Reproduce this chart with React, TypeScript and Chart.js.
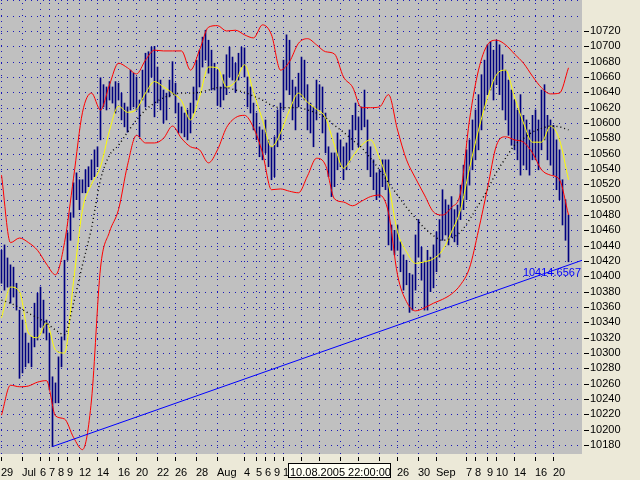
import React, { useEffect, useRef } from "react";
import { Chart, registerables } from "chart.js";

Chart.register(...registerables);

// ---- data (H4 bars, index = bar number) ----
const barHigh = [
  10434, 10441, 10424, 10415, 10412, 10391, 10356, 10343, 10326, 10313,
  10321, 10365, 10378, 10386, 10369, 10343, 10326, 10269, 10261, 10295,
  10321, 10421, 10457, 10483, 10522, 10535, 10526, 10526, 10539, 10543,
  10552, 10565, 10569, 10659, 10650, 10647, 10654, 10647, 10654, 10652,
  10639, 10626, 10621, 10669, 10665, 10660, 10630, 10669, 10691, 10693,
  10699, 10700, 10673, 10656, 10643, 10639, 10656, 10680, 10652, 10626,
  10621, 10613, 10617, 10626, 10647, 10682, 10695, 10712, 10721, 10708,
  10695, 10678, 10669, 10647, 10663, 10689, 10699, 10686, 10678, 10691,
  10699, 10698, 10660, 10647, 10626, 10613, 10595, 10591, 10604, 10578,
  10569, 10582, 10617, 10626, 10682, 10715, 10708, 10656, 10647, 10665,
  10686, 10682, 10650, 10626, 10621, 10656, 10650, 10647, 10613, 10569,
  10561, 10561, 10587, 10578, 10569, 10574, 10591, 10610, 10626, 10608,
  10621, 10643, 10604, 10569, 10552, 10535, 10539, 10552, 10552, 10552,
  10467, 10460, 10467, 10445, 10428, 10421, 10404, 10402, 10454, 10474,
  10438, 10419, 10434, 10425, 10441, 10458, 10474, 10513, 10500, 10493,
  10504, 10487, 10493, 10519, 10545, 10565, 10578, 10604, 10617, 10637,
  10663, 10682, 10702, 10706, 10695, 10708, 10702, 10689, 10669, 10656,
  10643, 10630, 10617, 10637, 10610, 10604, 10591, 10610, 10617, 10604,
  10643, 10650, 10610, 10604, 10597, 10578, 10565, 10526, 10500, 10480,
];
const barLow = [
  10391, 10382, 10386, 10365, 10373, 10356, 10267, 10274, 10282, 10287,
  10282, 10308, 10317, 10334, 10326, 10317, 10252, 10178, 10235, 10235,
  10282, 10317, 10421, 10447, 10477, 10500, 10487, 10509, 10509, 10517,
  10526, 10530, 10543, 10578, 10621, 10617, 10630, 10626, 10613, 10630,
  10604, 10595, 10588, 10617, 10621, 10617, 10582, 10630, 10621, 10640,
  10660, 10608, 10626, 10617, 10600, 10604, 10634, 10639, 10613, 10587,
  10587, 10582, 10578, 10587, 10613, 10630, 10647, 10673, 10682, 10665,
  10643, 10643, 10623, 10621, 10630, 10637, 10660, 10656, 10640, 10656,
  10673, 10660, 10621, 10613, 10591, 10578, 10556, 10552, 10561, 10543,
  10526, 10530, 10569, 10578, 10617, 10643, 10637, 10604, 10591, 10621,
  10634, 10630, 10591, 10587, 10569, 10604, 10617, 10587, 10561, 10530,
  10504, 10517, 10539, 10543, 10526, 10539, 10549, 10565, 10591, 10569,
  10591, 10595, 10539, 10530, 10513, 10500, 10503, 10517, 10513, 10441,
  10434, 10428, 10434, 10406, 10382, 10389, 10353, 10356, 10382, 10425,
  10395, 10356, 10356, 10380, 10385, 10406, 10425, 10447, 10454, 10441,
  10451, 10445, 10441, 10474, 10487, 10500, 10519, 10539, 10552, 10565,
  10591, 10617, 10637, 10643, 10630, 10650, 10637, 10617, 10604, 10584,
  10571, 10565, 10552, 10532, 10545, 10539, 10532, 10552, 10552, 10539,
  10565, 10578, 10552, 10545, 10532, 10513, 10500, 10467, 10447, 10419,
];

// indicator samples (every 3rd bar)
const lineBars = [
  0, 3, 6, 9, 12, 15, 18, 21, 24, 27, 30, 33, 36, 39, 42, 45, 48, 51, 54, 57,
  60, 63, 66, 69, 72, 75, 78, 81, 84, 87, 90, 93, 96, 99, 102, 105, 108, 111,
  114, 117, 120, 123, 126, 129, 132, 135, 138, 141, 144, 147, 150, 153, 156,
  159, 162, 165, 168, 171, 174, 177, 180, 183, 186, 189,
];
const upperBand = [
  10532, 10444, 10450, 10444, 10434, 10416, 10402, 10444, 10528, 10614,
  10639, 10617, 10650, 10678, 10672, 10664, 10682, 10695, 10694, 10694,
  10694, 10669, 10695, 10725, 10727, 10720, 10721, 10715, 10711, 10728,
  10715, 10669, 10680, 10704, 10710, 10702, 10693, 10690, 10660, 10647,
  10620, 10620, 10621, 10637, 10591, 10552, 10528, 10506, 10484, 10480,
  10490, 10509, 10604, 10669, 10702, 10708, 10702, 10690, 10678, 10661,
  10646, 10638, 10639, 10672,
];
const lowerBand = [
  10219, 10258, 10256, 10257, 10262, 10264, 10218, 10214, 10190, 10174,
  10239, 10411, 10458, 10487, 10545, 10584, 10574, 10574, 10580, 10596,
  10580, 10569, 10565, 10548, 10565, 10594, 10607, 10610, 10594, 10561,
  10513, 10514, 10511, 10509, 10531, 10554, 10545, 10501, 10497, 10492,
  10498, 10504, 10506, 10483, 10402, 10367, 10355, 10359, 10365, 10370,
  10377, 10389, 10411, 10460, 10515, 10571, 10582, 10578, 10575, 10561,
  10539, 10532, 10526, 10480,
];
const middleLine = [
  10346, 10386, 10380, 10326, 10320, 10339, 10304, 10300, 10393, 10487,
  10520, 10543, 10590, 10622, 10614, 10618, 10639, 10654, 10647, 10639,
  10629, 10604, 10634, 10673, 10672, 10647, 10654, 10676, 10640, 10604,
  10569, 10587, 10617, 10639, 10627, 10618, 10607, 10571, 10541, 10556,
  10571, 10578, 10554, 10519, 10458, 10432, 10417, 10419, 10423, 10434,
  10458, 10487, 10541, 10591, 10633, 10663, 10669, 10634, 10600, 10575,
  10575, 10596, 10578, 10526,
];
const slowLine = [
  10369, 10365, 10359, 10352, 10346, 10339, 10330, 10324, 10365, 10415,
  10463, 10526, 10558, 10571, 10588, 10604, 10617, 10626, 10633, 10637,
  10639, 10639, 10640, 10643, 10646, 10646, 10643, 10640, 10635, 10630,
  10623, 10620, 10620, 10620, 10617, 10613, 10607, 10597, 10588, 10578,
  10568, 10554, 10539, 10522, 10506, 10490, 10476, 10463, 10453, 10447,
  10450, 10458, 10474, 10493, 10513, 10536, 10554, 10571, 10580, 10588,
  10593, 10596, 10595, 10591,
];

const trendBars = [17, 193.5];
const trendValues = [10178, 10420.9];
const trendLabel = "10414.6567";
const cursorLabel = "10.08.2005 22:00:00";

const yTickValues = [
  10180, 10200, 10220, 10240, 10260, 10280, 10300, 10320, 10340, 10360,
  10380, 10400, 10420, 10440, 10460, 10480, 10500, 10520, 10540, 10560,
  10580, 10600, 10620, 10640, 10660, 10680, 10700, 10720,
];
const yGridExtra = [10740, 10760];

const dateLabels = [
  "29", "Jul", "6", "7", "8", "9", "12", "14", "16", "20", "22", "26", "28",
  "Aug", "4", "5", "6", "9", "10", "12", "16", "18", "22", "24", "26", "30",
  "Sep", "7", "8", "9", "10", "14", "16", "20",
];
const dateBars = [
  0, 7, 13, 16, 19, 22, 26, 32, 39, 45, 52, 58, 65, 72, 81, 85, 88, 91, 94,
  100, 106, 113, 119, 126, 132, 139, 145, 155, 158, 162, 165, 171, 178, 184,
];

const FONT = '11px "Liberation Sans", Arial, sans-serif';
const GRID = "#1818b8";

const mtPlugin = {
  id: "mt4look",
  beforeDraw(chart: any) {
    const { ctx, chartArea, scales } = chart;
    const { left, top, right, bottom } = chartArea;
    ctx.save();
    ctx.fillStyle = "#ECE9D8";
    ctx.fillRect(0, 0, chart.width, chart.height);
    ctx.fillStyle = "#C0C0C0";
    ctx.fillRect(left, top, right - left, bottom - top);
    ctx.fillStyle = GRID;
    const rows = yTickValues.concat(yGridExtra);
    for (const v of rows) {
      const py = Math.round(scales.y.getPixelForValue(v));
      if (py < top || py >= bottom) continue;
      for (let px = left + 1; px < right; px += 6) ctx.fillRect(px, py, 1, 1);
    }
    for (const b of dateBars) {
      const px = Math.floor(scales.x.getPixelForValue(b));
      for (let py = top + 3; py < bottom; py += 6) ctx.fillRect(px, py, 1, 1);
    }
    ctx.restore();
  },
  afterDraw(chart: any) {
    const { ctx, chartArea, scales } = chart;
    const { right, bottom } = chartArea;
    ctx.save();
    ctx.fillStyle = "#000";
    ctx.font = FONT;
    ctx.textAlign = "left";
    ctx.textBaseline = "alphabetic";
    dateBars.forEach((b, k) => {
      const px = Math.floor(scales.x.getPixelForValue(b));
      ctx.fillRect(px, bottom + 3, 1, 4);
      ctx.fillText(dateLabels[k], px, bottom + 22);
    });
    for (const v of yTickValues) {
      const py = Math.round(scales.y.getPixelForValue(v));
      ctx.fillRect(right + 2, py, 5, 1);
    }
    // crosshair time box
    const bx = 288, by = bottom + 9, bw = 103, bh = 15;
    ctx.fillStyle = "#FFFFF4";
    ctx.fillRect(bx, by, bw, bh);
    ctx.strokeStyle = "#000";
    ctx.lineWidth = 1;
    ctx.strokeRect(bx + 0.5, by + 0.5, bw - 1, bh - 1);
    ctx.fillStyle = "#000";
    ctx.fillText(cursorLabel, bx + 2, bottom + 22);
    // trendline value label
    ctx.fillStyle = "#0000FF";
    ctx.textAlign = "right";
    const ly = scales.y.getPixelForValue(parseFloat(trendLabel));
    ctx.fillText(trendLabel, right - 1, ly + 11);
    ctx.restore();
  },
};

function pts(values: number[]) {
  return values.map((v, k) => ({ x: lineBars[k], y: v }));
}

export default function App() {
  const ref = useRef<HTMLCanvasElement | null>(null);
  useEffect(() => {
    if (!ref.current) return;
    const lineBase = {
      type: "line" as const,
      borderWidth: 1,
      pointRadius: 0,
      fill: false,
      cubicInterpolationMode: "monotone" as const,
    };
    const chart = new Chart(ref.current, {
      type: "line",
      data: {
        datasets: [
          {
            ...lineBase,
            label: "Trend",
            data: trendBars.map((b, k) => ({ x: b, y: trendValues[k] })),
            borderColor: "#0000FF",
            order: 0,
          },
          {
            ...lineBase,
            label: "Slow MA",
            data: pts(slowLine),
            borderColor: "#000000",
            borderWidth: 1.4,
            borderDash: [1, 3],
            order: 1,
          },
          {
            ...lineBase,
            label: "Middle",
            data: pts(middleLine),
            borderColor: "#FFFF00",
            order: 2,
          },
          {
            ...lineBase,
            label: "Upper",
            data: pts(upperBand),
            borderColor: "#FF0000",
            order: 3,
          },
          {
            ...lineBase,
            label: "Lower",
            data: pts(lowerBand),
            borderColor: "#FF0000",
            order: 3,
          },
          {
            type: "bar",
            label: "Bars",
            data: barHigh.map((h, i) => ({ x: i, y: [barLow[i], h] })) as any,
            backgroundColor: "#000080",
            borderWidth: 0,
            barThickness: 1,
            grouped: false,
            order: 10,
          } as any,
        ],
      },
      options: {
        animation: false,
        responsive: false,
        devicePixelRatio: 1,
        events: [],
        layout: { padding: 0 },
        plugins: { legend: { display: false }, tooltip: { enabled: false } },
        scales: {
          x: {
            type: "linear",
            min: -0.5,
            max: 193.5,
            offset: false,
            grid: { display: false, drawTicks: false },
            border: { display: false },
            ticks: { display: false },
            afterFit: (s: any) => {
              s.height = 26;
              s.paddingLeft = 0;
              s.paddingRight = 0;
            },
          },
          y: {
            type: "linear",
            position: "right",
            min: 10168.3,
            max: 10760.43,
            beginAtZero: false,
            grid: { display: false, drawTicks: false },
            border: { display: false },
            afterBuildTicks: (s: any) => {
              s.ticks = yTickValues.map((v) => ({ value: v }));
            },
            afterFit: (s: any) => {
              s.width = 58;
              s.paddingTop = 0;
              s.paddingBottom = 0;
            },
            ticks: {
              padding: 8,
              color: "#000",
              autoSkip: false,
              font: { family: '"Liberation Sans", Arial, sans-serif', size: 11 },
              callback: (v: any) => String(v),
            },
          },
        },
      },
      plugins: [mtPlugin],
    });
    return () => chart.destroy();
  }, []);
  return (
    <div
      style={{
        position: "absolute",
        left: 0,
        top: 0,
        width: 640,
        height: 480,
        background: "#ECE9D8",
      }}
    >
      <canvas ref={ref} width={640} height={480} />
    </div>
  );
}
